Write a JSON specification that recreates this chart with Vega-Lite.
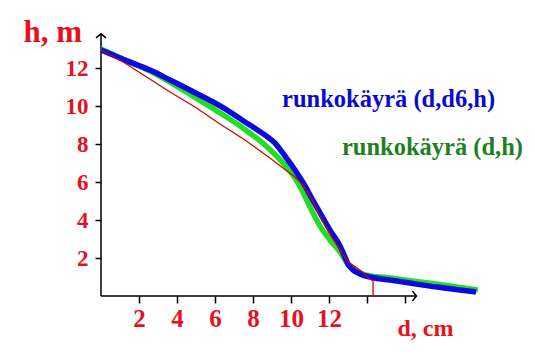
{
  "$schema": "https://vega.github.io/schema/vega-lite/v6.json",
  "width": 380,
  "height": 266,
  "autosize": {"type": "none"},
  "padding": {"left": 101, "top": 30, "right": 54, "bottom": 62},
  "background": "white",
  "config": {"view": {"stroke": null}},
  "encoding": {
    "x": {"type": "quantitative"},
    "y": {"type": "quantitative"}
  },
  "layer": [
    {
      "data": {"values": [
        {"x": 0, "y": 0, "x2": 0, "y2": 13.8},
        {"x": 0, "y": 0, "x2": 16.6, "y2": 0}
      ]},
      "mark": {"type": "rule", "color": "black", "strokeWidth": 1.5},
      "encoding": {
        "x": {"field": "x", "type": "quantitative",
          "scale": {"domain": [0, 20], "nice": false, "zero": false},
          "axis": {
            "values": [2, 4, 6, 8, 10, 12, 14, 16],
            "labelExpr": "datum.value <= 12 ? datum.label : ''",
            "domain": false, "grid": false,
            "tickColor": "black", "tickSize": 7, "tickWidth": 1.5,
            "labelColor": "#e8101c", "labelFont": "Liberation Serif", "labelFontWeight": "bold", "labelFontSize": 25, "labelPadding": 3,
            "title": "d, cm", "titleColor": "#e8101c", "titleFont": "Liberation Serif", "titleFontWeight": "bold", "titleFontSize": 24,
            "titleAlign": "left", "titleBaseline": "alphabetic", "titleX": 296, "titleY": 39, "titleAnchor": null
          }},
        "y": {"field": "y", "type": "quantitative",
          "scale": {"domain": [0, 14], "nice": false, "zero": false},
          "axis": {
            "values": [2, 4, 6, 8, 10, 12],
            "domain": false, "grid": false,
            "tickColor": "black", "tickSize": 6, "tickWidth": 1.5,
            "labelColor": "#e8101c", "labelFont": "Liberation Serif", "labelFontWeight": "bold", "labelFontSize": 23, "labelPadding": 7,
            "title": "h, m", "titleColor": "#e8101c", "titleFont": "Liberation Serif", "titleFontWeight": "bold", "titleFontSize": 31,
            "titleAngle": 0, "titleAlign": "left", "titleBaseline": "alphabetic", "titleX": -78, "titleY": 11, "titleAnchor": null
          }},
        "x2": {"field": "x2"},
        "y2": {"field": "y2"}
      }
    },
    {
      "data": {"values": [{"x": 0, "y": 13.8}]},
      "mark": {"type": "point", "shape": "M-1,0.8L0,0L1,0.8", "filled": false, "stroke": "black", "strokeWidth": 1.5, "size": 100, "opacity": 1},
      "encoding": {"x": {"field": "x", "type": "quantitative"}, "y": {"field": "y", "type": "quantitative"}}
    },
    {
      "data": {"values": [{"x": 16.6, "y": 0}]},
      "mark": {"type": "point", "shape": "M-0.8,-1L0,0L-0.8,1", "filled": false, "stroke": "black", "strokeWidth": 1.5, "size": 100, "opacity": 1},
      "encoding": {"x": {"field": "x", "type": "quantitative"}, "y": {"field": "y", "type": "quantitative"}}
    },
    {
      "data": {"values": [
        {"d": 0, "h": 13.0}, {"d": 1.26, "h": 12.42}, {"d": 2.58, "h": 11.84}, {"d": 3.63, "h": 11.26},
        {"d": 4.95, "h": 10.45}, {"d": 6.53, "h": 9.47}, {"d": 7.58, "h": 8.76}, {"d": 8.63, "h": 7.95},
        {"d": 9.68, "h": 6.89}, {"d": 10.21, "h": 6.21}, {"d": 10.63, "h": 5.47}, {"d": 11.0, "h": 4.68},
        {"d": 11.53, "h": 3.68}, {"d": 12.05, "h": 2.95}, {"d": 12.58, "h": 2.32}, {"d": 13.0, "h": 1.68},
        {"d": 13.37, "h": 1.37}, {"d": 13.89, "h": 1.11}, {"d": 15.21, "h": 0.95}, {"d": 16.79, "h": 0.74},
        {"d": 18.37, "h": 0.53}, {"d": 19.84, "h": 0.32}
      ]},
      "mark": {"type": "line", "color": "#22dd22", "strokeWidth": 5.5, "interpolate": "monotone"},
      "encoding": {"x": {"field": "d", "type": "quantitative"}, "y": {"field": "h", "type": "quantitative"}}
    },
    {
      "data": {"values": [
        {"d": 0, "h": 12.95}, {"d": 1.26, "h": 12.42}, {"d": 2.58, "h": 11.89}, {"d": 3.63, "h": 11.37},
        {"d": 4.95, "h": 10.70}, {"d": 6.53, "h": 9.85}, {"d": 7.58, "h": 9.16}, {"d": 8.63, "h": 8.47},
        {"d": 9.16, "h": 8.05}, {"d": 9.68, "h": 7.37}, {"d": 10.21, "h": 6.63}, {"d": 10.74, "h": 5.79},
        {"d": 11.11, "h": 5.11}, {"d": 11.53, "h": 4.37}, {"d": 12.05, "h": 3.47}, {"d": 12.58, "h": 2.63},
        {"d": 12.84, "h": 2.05}, {"d": 13.0, "h": 1.68}, {"d": 13.21, "h": 1.42}, {"d": 13.63, "h": 1.16},
        {"d": 14.16, "h": 1.0}, {"d": 15.21, "h": 0.84}, {"d": 16.26, "h": 0.68}, {"d": 17.68, "h": 0.47},
        {"d": 18.89, "h": 0.32}, {"d": 19.74, "h": 0.21}
      ]},
      "mark": {"type": "line", "color": "#0a0ae0", "strokeWidth": 5.5, "interpolate": "monotone"},
      "encoding": {"x": {"field": "d", "type": "quantitative"}, "y": {"field": "h", "type": "quantitative"}}
    },
    {
      "data": {"values": [
        {"i": 1, "d": 0, "h": 12.95}, {"i": 2, "d": 1.0, "h": 12.42}, {"i": 3, "d": 2.32, "h": 11.58},
        {"i": 4, "d": 3.63, "h": 10.74}, {"i": 5, "d": 4.95, "h": 9.95}, {"i": 6, "d": 6.26, "h": 9.05},
        {"i": 7, "d": 7.58, "h": 8.21}, {"i": 8, "d": 8.89, "h": 7.26}, {"i": 9, "d": 9.79, "h": 6.58},
        {"i": 10, "d": 10.21, "h": 6.26}, {"i": 11, "d": 10.63, "h": 5.84}, {"i": 12, "d": 11.11, "h": 5.05},
        {"i": 13, "d": 11.53, "h": 4.21}, {"i": 14, "d": 12.05, "h": 3.26}, {"i": 15, "d": 12.58, "h": 2.42},
        {"i": 16, "d": 12.95, "h": 1.84}, {"i": 17, "d": 13.47, "h": 1.47}, {"i": 18, "d": 13.84, "h": 1.21},
        {"i": 19, "d": 14.16, "h": 0.89}, {"i": 20, "d": 14.32, "h": 0.79}, {"i": 21, "d": 14.32, "h": 0}
      ]},
      "mark": {"type": "line", "color": "#d40000", "strokeWidth": 1.3},
      "encoding": {
        "x": {"field": "d", "type": "quantitative"},
        "y": {"field": "h", "type": "quantitative"},
        "order": {"field": "i", "type": "quantitative"}
      }
    },
    {
      "data": {"values": [{"label": "runkokäyrä (d,d6,h)", "d": 9.53, "h": 9.95}]},
      "mark": {"type": "text", "align": "left", "baseline": "alphabetic", "font": "Liberation Serif", "fontWeight": "bold", "fontSize": 24.5, "color": "#0a0ad2"},
      "encoding": {"x": {"field": "d", "type": "quantitative"}, "y": {"field": "h", "type": "quantitative"}, "text": {"field": "label"}}
    },
    {
      "data": {"values": [{"label": "runkokäyrä (d,h)", "d": 12.68, "h": 7.42}]},
      "mark": {"type": "text", "align": "left", "baseline": "alphabetic", "font": "Liberation Serif", "fontWeight": "bold", "fontSize": 24.5, "color": "#1e801e"},
      "encoding": {"x": {"field": "d", "type": "quantitative"}, "y": {"field": "h", "type": "quantitative"}, "text": {"field": "label"}}
    }
  ]
}
